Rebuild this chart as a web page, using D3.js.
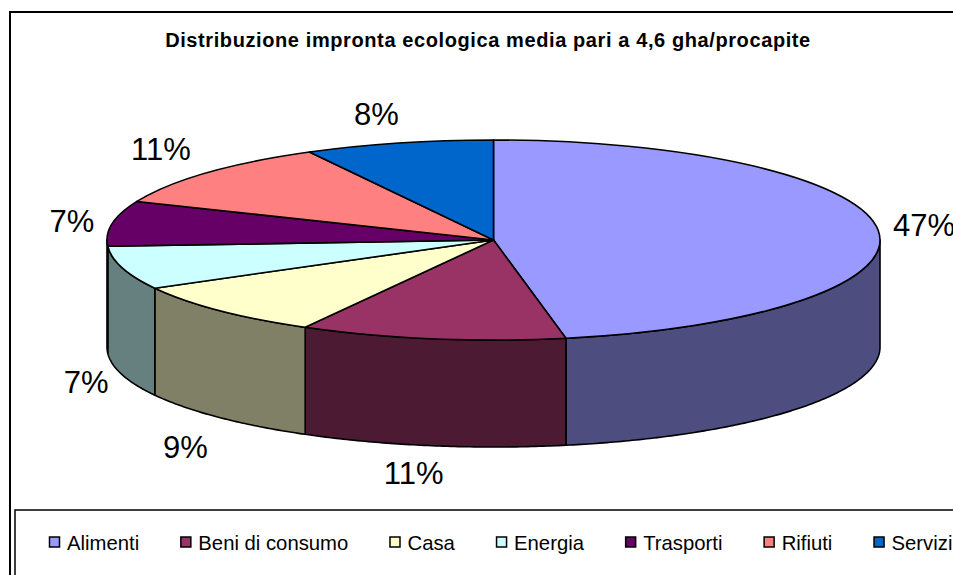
<!DOCTYPE html>
<html><head><meta charset="utf-8">
<script src="https://cdn.jsdelivr.net/npm/d3@7"></script>
<style>html,body{margin:0;padding:0;background:#fff}svg{display:block}text{font-family:"Liberation Sans",Arial,sans-serif;fill:#000}</style>
</head><body><svg id="c" width="953" height="575"></svg>
<script>
const titleText = "Distribuzione impronta ecologica media pari a 4,6 gha/procapite";
const categories = ["Alimenti","Beni di consumo","Casa","Energia","Trasporti","Rifiuti","Servizi"];
const values = [47,11.1,8.9,7,7.3,10.8,7.9];
const topColors = ["#9999FF","#993366","#FFFFCC","#CCFFFF","#660066","#FF8080","#0066CC"];
const sideColors = ["#4D4D80","#4D1A33","#808066","#668080","#330033","#804040","#003366"];

const W=953,H=575,cx=493.5,cy=240,rx=386.5,ry=100,depth=107;
const svg=d3.select("#c");
svg.append("rect").attr("x",10).attr("y",12).attr("width",W+20).attr("height",H+20).attr("fill","#fff").attr("stroke","#000").attr("stroke-width",2);
svg.append("text").attr("x",488).attr("y",46.5).attr("text-anchor","middle").attr("font-weight","bold").attr("font-size",20).attr("letter-spacing",0.6).text(titleText);

const arcs=d3.pie().sort(null).value(d=>d)(values);
const sx=d3.scaleLinear().domain([-1,1]).range([cx-rx,cx+rx]);
const sy=d3.scaleLinear().domain([-1,1]).range([cy-ry,cy+ry]);

// Side walls (front half only: angles between PI/2 and 3PI/2)
const wall=d3.area().x(a=>sx(Math.sin(a))).y0(a=>sy(-Math.cos(a))).y1(a=>sy(-Math.cos(a))+depth);
const wallG=svg.append("g");
arcs.forEach((d,i)=>{
  const a0=Math.max(d.startAngle,Math.PI/2),a1=Math.min(d.endAngle,Math.PI*1.5);
  if(a1<=a0)return;
  const n=Math.max(2,Math.ceil((a1-a0)/0.01));
  wallG.append("path").attr("d",wall(d3.range(n+1).map(k=>a0+(a1-a0)*k/n)))
    .attr("fill",sideColors[i]).attr("stroke","#000").attr("stroke-width",1.6).attr("stroke-linejoin","round");
});
// Top face: d3.arc squashed vertically
const arc=d3.arc().innerRadius(0).outerRadius(rx);
const topG=svg.append("g").attr("transform",`translate(${cx},${cy}) scale(1,${ry/rx})`);
topG.selectAll("path").data(arcs).join("path").attr("d",arc)
  .attr("fill",(d,i)=>topColors[i]).attr("stroke","#000").attr("stroke-width",1.6)
  .attr("vector-effect","non-scaling-stroke").attr("stroke-linejoin","round");

// Percentage labels placed outside the rim, with small per-label layout nudges
const total=d3.sum(values);
const padX=45,padY=28;
const nudgeX=[1,-11,-2,7,4,-12.5,-11], nudgeY=[-2,0,10,0,3,-5,-1];
svg.append("g").selectAll("text").data(arcs).join("text")
  .attr("font-size",31).attr("text-anchor","middle").attr("dominant-baseline","central")
  .attr("x",(d,i)=>cx+(rx+padX)*Math.sin((d.startAngle+d.endAngle)/2)+nudgeX[i])
  .attr("y",(d,i)=>{const m=(d.startAngle+d.endAngle)/2,c=Math.cos(m);return cy-(ry+padY)*c+(c<0?depth:0)+nudgeY[i];})
  .text(d=>Math.round(d.value/total*100)+"%");

// Legend
svg.append("rect").attr("x",15).attr("y",510).attr("width",W+20).attr("height",H).attr("fill","#fff").attr("stroke","#000").attr("stroke-width",1.5);
const fs=20.3,swatch=10,gapA=7.5,gapB=41.7;
const lg=svg.append("g");
const meas=lg.append("text").attr("font-size",fs);
const widths=categories.map(c=>{meas.text(c);return meas.node().getComputedTextLength();});
meas.remove();
let x=49.5;
categories.forEach((c,i)=>{
  lg.append("rect").attr("x",x).attr("y",537).attr("width",swatch).attr("height",swatch).attr("fill",topColors[i]).attr("stroke","#000").attr("stroke-width",1.5);
  lg.append("text").attr("x",x+swatch+gapA).attr("y",549.5).attr("font-size",fs).text(c);
  x+=swatch+gapA+widths[i]+gapB;
});
</script></body></html>
